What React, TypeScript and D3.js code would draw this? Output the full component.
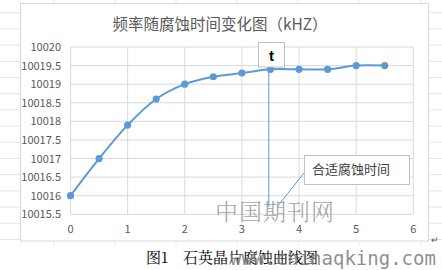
import React from "react";
import * as d3 from "d3";

const xValues = [0, 0.5, 1, 1.5, 2, 2.5, 3, 3.5, 4, 4.5, 5, 5.5];
const yValues = [10016, 10017, 10017.9, 10018.6, 10019, 10019.2, 10019.3, 10019.4, 10019.4, 10019.4, 10019.5, 10019.5];
const xTicks = [0, 1, 2, 3, 4, 5, 6];
const yTicks = [10015.5, 10016, 10016.5, 10017, 10017.5, 10018, 10018.5, 10019, 10019.5, 10020];
const markerX = 3.47;
const title = "频率随腐蚀时间变化图（kHZ）";
const calloutText = "合适腐蚀时间";
const caption = "图1　石英晶片腐蚀曲线图";

const W = 442;
const H = 270;
const plot = { left: 70.5, right: 413.3, top: 47, bottom: 214.3 };
const blue = "#5b9bd5";
const grid = "#d9d9d9";
const tickColor = "#595959";
const font = "'Noto Sans CJK SC', 'Noto Sans', sans-serif";

export default function App() {
  const x = d3.scaleLinear().domain([0, 6]).range([plot.left, plot.right]);
  const y = d3.scaleLinear().domain([10015.5, 10020]).range([plot.bottom, plot.top]);
  const pts: [number, number][] = xValues.map((v, i) => [x(v), y(yValues[i])]);
  const line = d3.line().curve(d3.curveCatmullRom.alpha(0.5))(pts) || "";

  const rows = d3.range(0, 15).map((k) => 12.7 + 16.2 * k);
  const cols = [54, 115, 176, 237, 298, 359, 421];
  const mx = x(markerX);

  return (
    <svg width={W} height={H} style={{ position: "absolute", left: 0, top: 0, background: "#fff" }}>
      {rows.map((ry, i) => (
        <g key={"r" + i}>
          <line x1={0} x2={20} y1={ry} y2={ry} stroke="#e6e6e6" />
          <line x1={429} x2={442} y1={ry} y2={ry} stroke="#e6e6e6" />
        </g>
      ))}
      {cols.map((cx, i) => (
        <g key={"c" + i}>
          <line x1={cx} x2={cx} y1={0} y2={3} stroke="#e6e6e6" />
          <line x1={cx} x2={cx} y1={241} y2={245} stroke="#e6e6e6" />
        </g>
      ))}
      <rect x={20.5} y={3.5} width={408} height={237.5} fill="#fff" stroke="#d9d9d9" />
      <text x={220} y={23} textAnchor="middle" dominantBaseline="central" fontFamily={font} fontSize={15.5} fill={tickColor}>
        {title}
      </text>
      {yTicks.map((t) => (
        <line key={"gy" + t} x1={plot.left} x2={plot.right} y1={y(t)} y2={y(t)} stroke={grid} />
      ))}
      {xTicks.map((t) => (
        <line key={"gx" + t} x1={x(t)} x2={x(t)} y1={plot.top} y2={plot.bottom} stroke={grid} />
      ))}
      {yTicks.map((t) => (
        <text key={"ty" + t} x={61} y={y(t) - 1} textAnchor="end" dominantBaseline="central" fontFamily={font} fontSize={11} fill={tickColor}>
          {t}
        </text>
      ))}
      {xTicks.map((t) => (
        <text key={"tx" + t} x={x(t)} y={228} textAnchor="middle" dominantBaseline="central" fontFamily={font} fontSize={11} fill={tickColor}>
          {t}
        </text>
      ))}
      <line x1={mx} x2={mx} y1={67} y2={207} stroke={blue} strokeWidth={1} />
      <path d={line} fill="none" stroke={blue} strokeWidth={2} />
      {pts.map(([px, py], i) => (
        <circle key={"p" + i} cx={px} cy={py} r={3.6} fill={blue} />
      ))}
      <rect x={258.5} y={42.5} width={26} height={24.5} fill="#fff" stroke="#bfbfbf" />
      <text x={271.5} y={55} textAnchor="middle" dominantBaseline="central" fontFamily="'Liberation Sans', Arial, sans-serif" fontWeight="bold" fontSize={15} fill="#000">
        t
      </text>
      <line x1={304} y1={173} x2={277} y2={207} stroke={blue} strokeWidth={1} />
      <rect x={304.5} y={155.5} width={105} height={29} fill="#fff" stroke="#bfbfbf" />
      <text x={312} y={168.5} dominantBaseline="central" fontFamily={font} fontSize={13} fill="#404040">
        {calloutText}
      </text>
      <text x={215} y={210} dominantBaseline="central" fontFamily="'Noto Serif CJK SC', 'Noto Sans CJK SC', serif" fontSize={23} fontWeight={300} fill="#8c8c8c" fillOpacity={0.8} letterSpacing={1}>
        中国期刊网
      </text>
      <text x={146} y={256} dominantBaseline="central" fontFamily="'Noto Serif CJK SC', 'Noto Sans CJK SC', serif" fontSize={15} fill="#000">
        {caption}
      </text>
      <text x={431} y={243} fontFamily={font} fontSize={9} fill="#555">↵</text>
      <text x={230} y={265} fontFamily="'DejaVu Sans Mono', monospace" fontSize={19} fill="#7a7a7a" fillOpacity={0.85}>
        www.chinaqking.com
      </text>
    </svg>
  );
}
